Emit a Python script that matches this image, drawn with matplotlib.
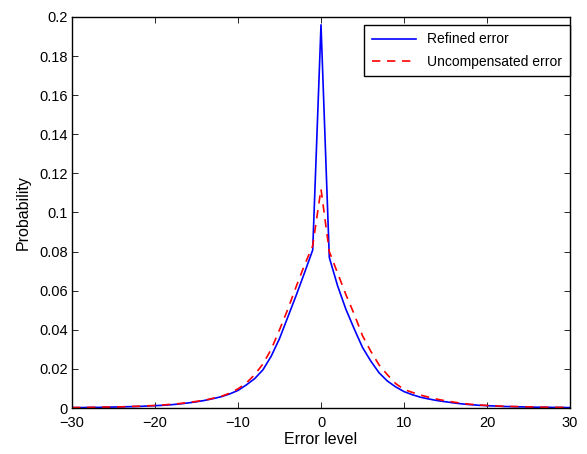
import matplotlib
matplotlib.use('Agg')
import matplotlib.pyplot as plt

# Error level samples (integer steps)
error_level = list(range(-30, 31))

# Refined error probability
refined = [0.0002, 0.0002, 0.0003, 0.0003, 0.0004, 0.0005, 0.0006, 0.0007, 0.0008, 0.0010,
           0.0012, 0.0014, 0.0017, 0.0021, 0.0026, 0.0032, 0.0039, 0.0048, 0.0058, 0.0072,
           0.0090, 0.0118, 0.0150, 0.0195, 0.0265, 0.0355, 0.0465, 0.0575, 0.0690, 0.0808,
           0.1960,
           0.0770, 0.0625, 0.0505, 0.0405, 0.0310, 0.0240, 0.0180, 0.0138, 0.0108, 0.0084,
           0.0068, 0.0055, 0.0046, 0.0038, 0.0032, 0.0026, 0.0021, 0.0017, 0.0014, 0.0012,
           0.0010, 0.0008, 0.0007, 0.0006, 0.0005, 0.0004, 0.0004, 0.0003, 0.0003, 0.0002]

# Uncompensated error probability
uncompensated = [0.0002, 0.0003, 0.0003, 0.0004, 0.0005, 0.0005, 0.0006, 0.0008, 0.0009, 0.0011,
                 0.0013, 0.0016, 0.0019, 0.0023, 0.0028, 0.0034, 0.0040, 0.0050, 0.0060, 0.0076,
                 0.0098, 0.0128, 0.0170, 0.0225, 0.0300, 0.0400, 0.0505, 0.0620, 0.0730, 0.0830,
                 0.1120,
                 0.0800, 0.0690, 0.0580, 0.0480, 0.0370, 0.0290, 0.0220, 0.0170, 0.0125, 0.0095,
                 0.0080, 0.0066, 0.0055, 0.0045, 0.0037, 0.0030, 0.0024, 0.0019, 0.0016, 0.0013,
                 0.0011, 0.0009, 0.0008, 0.0007, 0.0006, 0.0005, 0.0004, 0.0004, 0.0003, 0.0002]

plt.rcParams['font.family'] = ['Liberation Sans', 'DejaVu Sans']

fig = plt.figure(figsize=(5.87, 4.54), dpi=100)
ax = fig.add_axes([0.1227, 0.1013, 0.971 - 0.1227, 0.9626 - 0.1013])

ax.plot(error_level, refined, color='blue', linewidth=1.2, label='Refined error')
ax.plot(error_level, uncompensated, color='red', linewidth=1.2, linestyle=(0, (5, 4)),
        label='Uncompensated error')

ax.set_xlim(-30, 30)
ax.set_ylim(0, 0.2)
ax.set_xticks([-30, -20, -10, 0, 10, 20, 30])
ax.set_yticks([0, 0.02, 0.04, 0.06, 0.08, 0.1, 0.12, 0.14, 0.16, 0.18, 0.2])
ax.set_xticklabels(['\u221230', '\u221220', '\u221210', '0', '10', '20', '30'])
ax.set_yticklabels(['0', '0.02', '0.04', '0.06', '0.08', '0.1', '0.12', '0.14', '0.16', '0.18', '0.2'])
ax.tick_params(direction='in', top=True, right=True, labelsize=10.5, length=4, width=0.6)
ax.tick_params(axis='x', pad=6)
ax.tick_params(axis='y', pad=3)
for s in ax.spines.values():
    s.set_linewidth(1.0)

ax.set_xlabel('Error level', fontsize=11.5, labelpad=1)
ax.set_ylabel('Probability', fontsize=11.5, labelpad=6)

leg = ax.legend(loc='upper right', bbox_to_anchor=(1.0, 0.98), fancybox=False,
                edgecolor='black', framealpha=1, fontsize=10, borderaxespad=0,
                handlelength=3.2, borderpad=0.55, labelspacing=0.6)
leg.get_frame().set_linewidth(1.0)

fig.savefig('out.png', dpi=100)
